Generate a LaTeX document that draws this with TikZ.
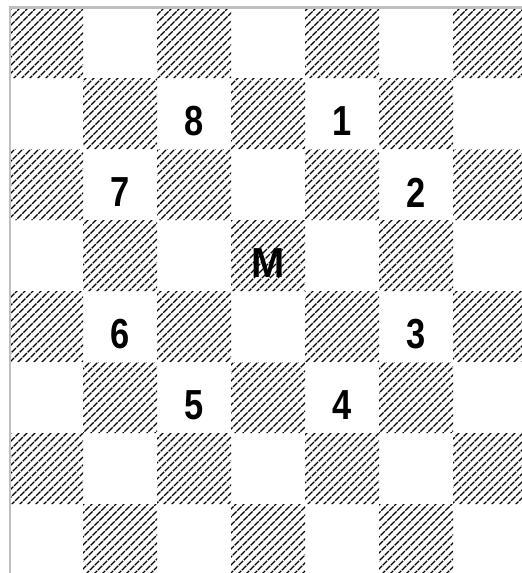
\documentclass[tikz,border=0pt]{standalone}
\usepackage{fontspec}
\setmainfont{Liberation Sans}

\tikzset{
  hline/.style={line width=1.3pt, dash pattern=on 6pt off 1pt},
  lbl/.style={font=\bfseries\fontsize{42}{42}\selectfont, inner sep=0pt}
}
\newcommand{\nar}[1]{\scalebox{0.82}[1]{#1}}

\begin{document}
\begin{tikzpicture}[x=1pt,y=-1pt]
\useasboundingbox (0,0) rectangle (522,573);
% hatched squares, 74 wide and 71 high
\begin{scope}
\clip foreach \r in {1,...,8}{ foreach \k in {1,...,4}{
  ({9+74*(2*\k-mod(\r,2)-1)},{7+71*(\r-1)}) rectangle ++(74,71) } };
\foreach \a in {-584,-576,...,528}
  \draw[hline] (\a,580) -- ++(580,-580);
\end{scope}
\draw[black!25,line width=2.5pt] (10,573) -- (10,7.5) -- (522,7.5);
% knight and its moves
\node[lbl] (M) at (268,263.5) {\scalebox{0.95}[1]{M}};
\node[lbl] (k1) at (342,121.5) {\nar{1}};
\node[lbl] (k2) at (416,192.5) {\nar{2}};
\node[lbl] (k3) at (416,334.5) {\nar{3}};
\node[lbl] (k4) at (342,405.5) {\nar{4}};
\node[lbl] (k5) at (194,405.5) {\nar{5}};
\node[lbl] (k6) at (120,334.5) {\nar{6}};
\node[lbl] (k7) at (120,192.5) {\nar{7}};
\node[lbl] (k8) at (194,121.5) {\nar{8}};
\end{tikzpicture}
\end{document}
